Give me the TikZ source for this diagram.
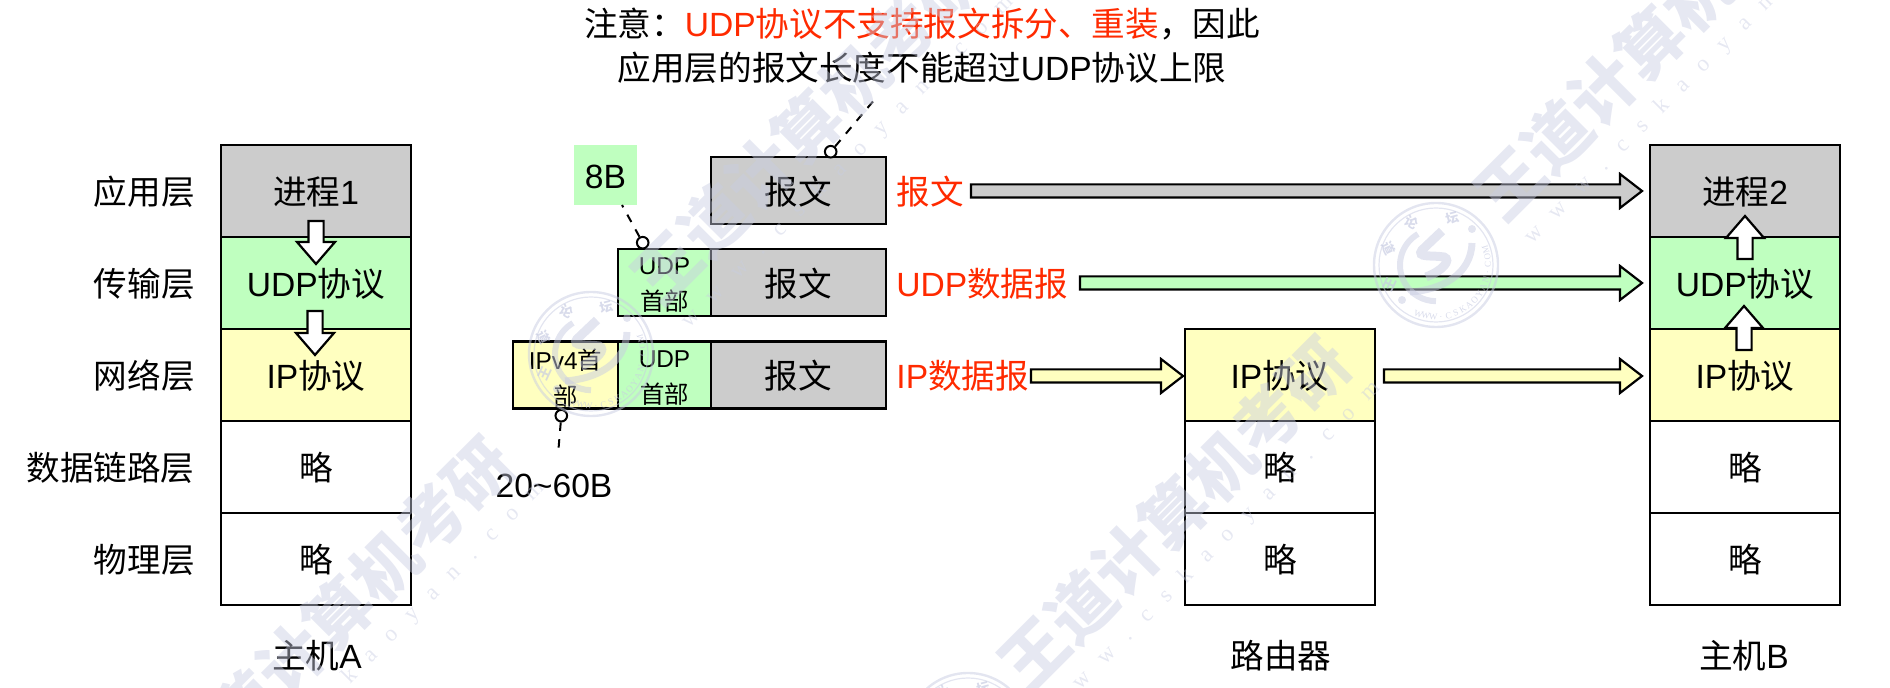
\documentclass[tikz,border=0pt]{standalone}
\usepackage{fontspec}
\setmainfont{Liberation Sans}
\newfontfamily\cjk{Noto Sans CJK SC}
\newfontfamily\wmserif{Liberation Serif}
\usetikzlibrary{calc}
\newcommand{\C}[1]{{\cjk #1}}
\definecolor{grayfill}{HTML}{CCCCCC}
\definecolor{greenfill}{HTML}{BFFFBF}
\definecolor{yellowfill}{HTML}{FFFFC0}
\definecolor{redtext}{HTML}{FF2A00}
\definecolor{wmcol}{HTML}{C8CCE2}
\tikzset{
  big/.style={font=\fontsize{16.8}{20}\selectfont,text height=14.8pt,text depth=1pt},
  layerbox/.style={draw=black,line width=1.2pt,minimum width=95pt,minimum height=46pt,inner sep=0pt,big},
  paybox/.style={draw=black,line width=1.2pt,minimum width=87.5pt,minimum height=33.5pt,inner sep=0pt,fill=grayfill,big},
  hdrbox/.style={draw=black,line width=1.2pt,minimum height=33.5pt,inner sep=0pt},
  hdrtext/.style={align=center,inner sep=0pt,font=\fontsize{12.2}{18}\selectfont},
  plain/.style={big,inner sep=0pt},
  redlab/.style={big,inner sep=0pt,text=redtext,anchor=west},
  pin/.style={circle,draw=black,fill=white,line width=1pt,minimum size=5.8pt,inner sep=0pt},
  note/.style={draw=black,line width=1pt,dash pattern=on 4.2pt off 4.2pt},
  blockarrow/.style n args={4}{draw=black,line width=1.1pt,fill=#1,line join=miter,to path={
    ($(\tikztostart)!#2!90:(\tikztotarget)$)
    -- ($(\tikztotarget)!#4!(\tikztostart)!#2!90:(\tikztotarget)$)
    -- ($(\tikztotarget)!#4!(\tikztostart)!#3!90:(\tikztotarget)$)
    -- (\tikztotarget)
    -- ($(\tikztotarget)!#4!(\tikztostart)!#3!-90:(\tikztotarget)$)
    -- ($(\tikztotarget)!#4!(\tikztostart)!#2!-90:(\tikztotarget)$)
    -- ($(\tikztostart)!#2!-90:(\tikztotarget)$) -- cycle}},
  flow/.style={blockarrow={#1}{3.3pt}{8.5pt}{11pt}},
  updown/.style={blockarrow={white}{3.8pt}{9.5pt}{11pt}},
  wmtext/.style={text=wmcol,text opacity=.45,rotate=45,inner sep=0pt,font=\cjk\bfseries\fontsize{33}{33}\selectfont},
  wmurl/.style={text=wmcol,text opacity=.45,rotate=45,inner sep=0pt,font=\wmserif\fontsize{11.5}{12}\selectfont},
  wmring/.style={draw=wmcol,draw opacity=.5},
  wmdot/.style={fill=wmcol,fill opacity=.5,circle,minimum size=4pt,inner sep=0pt},
  wmsmall/.style={text=wmcol,text opacity=.7,inner sep=0pt,font=\cjk\bfseries\fontsize{6.5}{7}\selectfont},
  wmtiny/.style={text=wmcol,text opacity=.7,inner sep=0pt,font=\wmserif\fontsize{4.5}{5}\selectfont},
}
\newcommand{\wmblock}[3]{%
  \node[wmtext] (#1t) at (#2,#3) {王道计算机考研};
  \node[wmurl] (#1u) at ($(#2,#3)+(41,35)$) {\spaceskip=9pt w w w . c s k a o y a n . c o m};
}
\newcommand{\wmseal}[3]{%
  \begin{scope}[shift={(#2,#3)}]
    \node[wmring,circle,line width=1.2pt,minimum size=62pt,inner sep=0pt] (#1a) at (0,0) {};
    \node[wmring,circle,line width=.6pt,minimum size=57pt,inner sep=0pt] (#1b) at (0,0) {};
    \draw[wmring,line width=3pt] (-18,-31) arc[start angle=240,end angle=90,radius=36];
    \draw[wmring,line width=3.5pt] (-26,27) .. controls (5,25) and (35,10) .. (36,-22);
    \draw[wmring,line width=4.5pt] (6,-34) -- (-14,-15) .. controls (-20,-7) and (-4,-10) .. (8,-8) .. controls (16,-5) and (6,6) .. (-10,12);
    \node[wmdot] (#1d) at (36,-36) {};
    \node[wmdot] (#1e) at (-34,35) {};
    \node[wmsmall,rotate=65] (#1w) at (-46,20) {王};
    \node[wmsmall,rotate=-65] (#1x) at (-47,-17) {道};
    \node[wmsmall,rotate=-30] (#1y) at (-24,-43) {论};
    \node[wmsmall,rotate=15] (#1z) at (16,-47) {坛};
    \foreach \ch [count=\i] in {W,W,W,.,C,S,K,A,O,Y,A,N,.,C,O,M}{
      \pgfmathsetmacro{\th}{-110+8.5*(\i-1)}
      \node[wmtiny,rotate=\th+90] (#1l\i) at ({52*cos(\th)},{-52*sin(\th)}) {\ch};
    }
  \end{scope}
}
\begin{document}
\begin{tikzpicture}[x=.5pt,y=-.5pt]
\useasboundingbox (0,0) rectangle (1890,688);

% layer names
\node[plain,anchor=east] (la) at (195,191) {\C{应用层}};
\node[plain,anchor=east] (lb) at (195,283) {\C{传输层}};
\node[plain,anchor=east] (lc) at (195,375) {\C{网络层}};
\node[plain,anchor=east] (ld) at (195,467) {\C{数据链路层}};
\node[plain,anchor=east] (le) at (195,559) {\C{物理层}};

% host A
\node[layerbox,fill=grayfill] (a1) at (316,191) {\C{进程}1};
\node[layerbox,fill=greenfill] (a2) at (316,283) {UDP\C{协议}};
\node[layerbox,fill=yellowfill] (a3) at (316,375) {IP\C{协议}};
\node[layerbox] (a4) at (316,467) {\C{略}};
\node[layerbox] (a5) at (316,559) {\C{略}};
% router
\node[layerbox,fill=yellowfill] (r3) at (1280,375) {IP\C{协议}};
\node[layerbox] (r4) at (1280,467) {\C{略}};
\node[layerbox] (r5) at (1280,559) {\C{略}};
% host B
\node[layerbox,fill=grayfill] (b1) at (1745,191) {\C{进程}2};
\node[layerbox,fill=greenfill] (b2) at (1745,283) {UDP\C{协议}};
\node[layerbox,fill=yellowfill] (b3) at (1745,375) {IP\C{协议}};
\node[layerbox] (b4) at (1745,467) {\C{略}};
\node[layerbox] (b5) at (1745,559) {\C{略}};

% captions
\node[plain] (capa) at (317,655) {\C{主机}A};
\node[plain] (capr) at (1281,655) {\C{路由器}};
\node[plain] (capb) at (1744,655) {\C{主机}B};

% packets
\node[paybox] (p1) at (798.5,190.7) {\C{报文}};
\node[paybox] (p2) at (798.5,282.7) {\C{报文}};
\node[paybox] (p3) at (798.5,375.2) {\C{报文}};
\node[hdrbox,fill=greenfill,minimum width=46.5pt] (u2) at (664.5,282.7) {};
\node[hdrbox,fill=greenfill,minimum width=46.5pt] (u3) at (664.5,375.2) {};
\node[hdrbox,fill=yellowfill,minimum width=52.5pt] (i3) at (565.5,375.2) {};
\node[hdrtext] (u2t) at (664.5,285.5) {UDP\\\C{首部}};
\node[hdrtext] (u3t) at (664.5,378) {UDP\\\C{首部}};
\node[hdrtext] (i3t) at (565.5,378) {IPv4\C{首}\\\C{部}};

% packet labels
\node[redlab] (t1) at (896,191) {\C{报文}};
\node[redlab] (t2) at (896,283) {UDP\C{数据报}};
\node[redlab] (t3) at (896,375) {IP\C{数据报}};

% top note
\node[plain] (n1) at (922,23) {\C{注意：}\textcolor{redtext}{UDP\C{协议不支持报文拆分、重装}}\C{，因此}};
\node[plain] (n2) at (922,67) {\C{应用层的报文长度不能超过}UDP\C{协议上限}};

% size labels
\node[big,fill=greenfill,minimum width=31.5pt,minimum height=30pt,inner sep=0pt] (s8) at (605.5,175) {8B};
\node[plain] (s20) at (554,484) {20\textasciitilde 60B};

% pins
\node[pin] (c1) at (830.7,151.7) {};
\node[pin] (c2) at (642.7,242.7) {};
\node[pin] (c3) at (561.3,415.7) {};
\coordinate (c1e) at (875,99);
\coordinate (c3e) at (558,455);
\coordinate (c2e) at (622,205);
\draw[note] (c1) -- (c1e);
\draw[note] (c2) -- (c2e);
\draw[note] (c3) -- (c3e);

% flow arrows
\coordinate (f1s) at (971,191);  \coordinate (f1t) at (1642,191);
\coordinate (f2s) at (1080,283); \coordinate (f2t) at (1642,283);
\coordinate (f3s) at (1031,376); \coordinate (f3t) at (1183,376);
\coordinate (f4s) at (1384,376); \coordinate (f4t) at (1642,376);
\draw[flow=grayfill] (f1s) to (f1t);
\draw[flow=greenfill] (f2s) to (f2t);
\draw[flow=yellowfill] (f3s) to (f3t);
\draw[flow=yellowfill] (f4s) to (f4t);

% stack arrows
\coordinate (d1s) at (316,221); \coordinate (d1t) at (316,264);
\coordinate (d2s) at (315,311); \coordinate (d2t) at (315,355);
\coordinate (e1s) at (1745,259); \coordinate (e1t) at (1745,216);
\coordinate (e2s) at (1744,350); \coordinate (e2t) at (1744,306);
\draw[updown] (d1s) to (d1t);
\draw[updown] (d2s) to (d2t);
\draw[updown] (e1s) to (e1t);
\draw[updown] (e2s) to (e2t);

% watermark
\wmblock{w1}{338}{613}
\wmblock{w2}{807}{127}
\wmblock{w3}{1174}{513}
\wmblock{w4}{1650}{43}
\wmseal{g1}{591}{354}
\wmseal{g2}{1436}{265}
\wmseal{g3}{968}{735}
\end{tikzpicture}
\end{document}
